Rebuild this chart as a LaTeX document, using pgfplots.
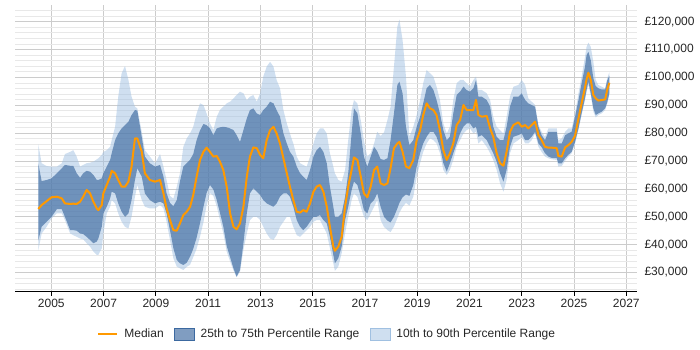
\documentclass[border=0pt]{standalone}
\usepackage{fontspec}
\setmainfont{Liberation Sans}
\usepackage{pgfplots}
\usepackage{pgfplotstable}
\pgfplotsset{compat=1.18}
\usepgfplotslibrary{fillbetween}
\definecolor{medc}{RGB}{255,153,0}
\definecolor{bandc}{RGB}{60,105,160}
\definecolor{lightc}{RGB}{160,192,225}

\pgfplotstableread{
yr lt dt m db lb
2004.50 76100 69200 52800 41400 37800
2004.63 69200 62800 54200 46400 44000
2004.82 68200 63200 55600 48200 46400
2005.01 68000 63800 57000 50000 49400
2005.21 68000 65600 57200 52700 51200
2005.40 69200 67400 56600 52700 51200
2005.52 72500 68600 54800 50000 48800
2005.72 73300 68300 54600 45200 44000
2005.84 73900 68300 54700 45200 43400
2005.97 71600 65600 54600 45000 42800
2006.10 68000 64000 55400 44000 42200
2006.22 68600 65600 57200 43800 41900
2006.35 69200 66500 59600 42800 40500
2006.48 69400 66200 58400 41700 39300
2006.61 69800 65000 55400 40500 37500
2006.74 70600 63200 53000 41100 36300
2006.80 71000 63200 52400 42200 36300
2006.93 72200 63800 54200 46400 38700
2006.99 73300 65600 58400 51200 44000
2007.12 73900 68000 61400 53600 51200
2007.25 75100 70400 64400 56600 53600
2007.31 77500 72800 66500 59000 56000
2007.44 82300 77500 65600 58400 54800
2007.56 93100 79900 63200 54800 51200
2007.69 101500 81700 60800 51800 48200
2007.82 104100 82900 60800 50000 46400
2007.95 99100 84100 62600 51200 45800
2008.07 93100 86500 68000 56000 50000
2008.20 89500 88300 78100 63200 57200
2008.29 88900 88100 78100 67400 61400
2008.46 80500 78700 73300 64400 56000
2008.58 73900 71600 65600 58400 53600
2008.77 71600 69200 63200 56000 53000
2008.97 69200 68000 62600 54800 53000
2009.16 72500 68600 63200 55400 54200
2009.29 68000 64400 58400 54800 53000
2009.41 63200 58400 53000 51200 48200
2009.54 57500 55000 48800 45200 41700
2009.67 56500 53800 45200 38700 35100
2009.80 60800 56000 45000 34500 32100
2009.92 65600 62600 47600 33300 31500
2010.05 75100 68000 50600 32700 30900
2010.18 78100 69200 51800 33500 32000
2010.31 80000 70500 53600 35700 32800
2010.43 82300 72500 57800 38500 35500
2010.56 87100 77500 64400 42500 38500
2010.69 90700 81000 70400 47700 42900
2010.82 90100 83300 73300 53500 48000
2010.94 87100 82900 74800 58500 54000
2011.07 83500 81700 73300 61400 58500
2011.20 81100 79300 71600 59800 57500
2011.33 85900 81700 71800 56000 53700
2011.45 88300 82100 69800 51500 49000
2011.58 89500 82300 66800 46500 44100
2011.71 90700 82100 60800 39500 37500
2011.84 91300 81700 51200 35500 34000
2011.97 92500 81100 46400 31500 30700
2012.09 93700 79300 45500 28500 28300
2012.22 94900 76900 47600 30900 30300
2012.35 94300 81100 53600 40500 38100
2012.48 91900 85300 64400 51200 44000
2012.60 93100 88300 71600 58400 48800
2012.73 93700 88900 74900 60200 50000
2012.86 91300 87100 74600 59000 50000
2012.99 94300 86500 72200 57800 48800
2013.11 100300 88300 71000 56000 46400
2013.24 103900 89500 77500 54800 44000
2013.37 105600 91300 81100 54200 42200
2013.50 103900 90700 82300 53600 41700
2013.62 99100 88300 79900 54800 43400
2013.75 96100 85900 76300 57200 46400
2013.88 88300 79900 71000 58400 48200
2014.01 83500 76300 65600 58400 50000
2014.13 79900 73300 60800 57200 50000
2014.26 76300 71600 56000 53600 46400
2014.39 71600 68000 51800 48800 43400
2014.52 69200 65600 51500 46400 42800
2014.64 68600 64400 52400 45200 44000
2014.77 68000 63200 51800 46400 45200
2014.90 71600 66800 54800 48200 46400
2015.03 76300 71600 59000 50000 48200
2015.15 79900 73900 60800 50000 48800
2015.28 81700 75100 61400 50600 48800
2015.41 81700 73300 59000 48800 46400
2015.54 79900 69200 53600 47600 44000
2015.66 72800 60800 46400 42800 38700
2015.79 68000 53600 39300 36300 33300
2015.85 65600 50000 37800 33300 30600
2015.98 63200 50000 39300 35100 32100
2016.11 62600 51200 42800 39300 36900
2016.24 66800 57200 53600 48800 44000
2016.36 77500 65600 60800 53600 50000
2016.49 88300 79900 66800 59600 56000
2016.58 91900 88900 71300 62600 58400
2016.71 90700 87100 70400 61400 57200
2016.84 84700 79900 64400 57200 53600
2016.96 77500 71600 58400 52400 50000
2017.09 71600 68000 57000 51200 48800
2017.22 72800 71600 60800 54800 51200
2017.35 76300 75100 66800 56000 53600
2017.47 80500 73500 68000 58400 56000
2017.60 79000 70700 62000 53600 48800
2017.73 80300 70400 61400 50000 46400
2017.86 84700 71000 62000 48600 45200
2017.98 89500 77500 67400 48000 44500
2018.11 103900 87100 74600 50000 46500
2018.24 118200 97300 76300 53000 49500
2018.32 120800 98500 76900 55000 51500
2018.44 113400 94300 73300 57000 53500
2018.57 100300 82300 68000 58000 55000
2018.70 78700 75700 67400 57500 54000
2018.85 82300 77500 70400 61400 57200
2018.98 86500 82300 77500 68000 64400
2019.11 91900 85900 81000 72800 69200
2019.23 97900 90700 86500 76300 73300
2019.36 102700 96100 90700 78700 76300
2019.49 101500 97300 88900 80500 78100
2019.62 100300 95500 88300 80500 77500
2019.74 96700 91900 86500 78700 76300
2019.87 91900 87100 81100 75100 72800
2020.00 83500 81100 73900 69200 66800
2020.13 79900 77500 70400 66200 65000
2020.25 82300 78700 72800 69200 66800
2020.38 91900 87100 76300 72800 70400
2020.51 97900 93700 82900 76300 75100
2020.64 99100 94900 84700 79900 77500
2020.77 99100 96700 90100 82300 79900
2020.89 97900 95500 88300 83500 81100
2021.02 96700 94900 88300 83500 81700
2021.15 99100 96100 88300 81700 79900
2021.25 100300 99100 91900 82300 80500
2021.34 95500 93100 86500 78700 76300
2021.47 95500 93100 85900 79300 77500
2021.66 94300 91900 86200 77500 75100
2021.79 91900 89500 81700 75100 72800
2021.91 85900 82300 78700 72800 70400
2022.04 82300 78700 72800 69800 66800
2022.17 81100 77500 69200 65600 62000
2022.30 79900 77500 68300 62600 59000
2022.42 85900 82300 73300 66800 63200
2022.55 93100 89500 80500 75100 72800
2022.68 96700 93100 82900 78700 76300
2022.87 97300 93100 83900 79300 77500
2023.00 99100 94300 82300 79900 78700
2023.13 97300 91900 82900 77500 76300
2023.25 92500 90700 81700 77500 76300
2023.38 91300 90100 82900 78700 77500
2023.51 90100 89500 84100 80500 79900
2023.64 82900 82300 79300 76300 75100
2023.76 80500 79300 77500 75000 73300
2023.89 78700 77500 75100 72800 71600
2024.02 81700 80500 74800 71600 71000
2024.15 81700 80500 74800 71100 70600
2024.34 81700 80500 74600 71000 70400
2024.40 77500 76300 71800 69200 68000
2024.53 78100 76300 71600 69200 68200
2024.66 80500 79300 74900 71000 70100
2024.78 81700 79900 75700 72200 71600
2024.91 81700 80500 76900 73300 72800
2025.04 87100 85900 79100 76900 76300
2025.17 94300 91900 85300 81700 81100
2025.29 100300 97900 90700 87100 86500
2025.42 107400 103900 96400 92500 91900
2025.48 111000 108000 99300 95500 94900
2025.55 112500 109200 101700 98500 97300
2025.64 111000 106200 99100 94300 93700
2025.74 105600 99700 93700 88900 87700
2025.83 99100 96900 92500 86500 85700
2025.93 97300 96100 91700 87100 86500
2026.06 96700 95700 91900 87700 87100
2026.19 96100 95700 92100 88900 88300
2026.27 99700 98900 95500 91100 90500
2026.35 101800 100600 98100 94300 93700
}\salary

\begin{document}
\begin{tikzpicture}
\begin{axis}[
  at={(0pt,0pt)}, anchor=south west,
  width=622pt, height=287pt, scale only axis,
  xmin=2003.61, xmax=2027.41,
  ymin=23000, ymax=126000,
  axis line style={draw=none},
  tick align=outside,
  xtick={2005,2007,...,2027},
  xtick pos=bottom,
  ytick pos=right,
  ytick={30000,40000,...,120000},
  minor ytick={24000,26000,...,124000},
  xmajorgrids, ymajorgrids, yminorgrids,
  major grid style={draw=black!20, line width=0.8pt},
  minor grid style={draw=black!9, line width=0.8pt},
  major tick length=4pt,
  xtick style={draw=black, line width=0.8pt},
  ytick style={draw=none},
  minor tick style={draw=none},
  scaled y ticks=false,
  /pgf/number format/assume math mode=true,
  tick label style={font=\fontsize{12}{14}\selectfont, text=black!85},
  xticklabel style={/pgf/number format/1000 sep={}},
  yticklabel={£\pgfmathprintnumber[fixed,precision=0,1000 sep={,}]{\tick}},
  legend columns=3,
  legend style={at={(0.5,-0.1463)}, anchor=center, draw=none, fill=none,
    font=\fontsize{12}{14}\selectfont, text=black!85,
    column sep=0pt, nodes={inner sep=0pt},
    /tikz/every odd column/.append style={column sep=6pt},
    /tikz/every even column/.append style={column sep=10.5pt}},
]
\addplot[name path=lt, draw=none, forget plot] table[x=yr, y=lt]{\salary};
\addplot[name path=lb, draw=none, forget plot] table[x=yr, y=lb]{\salary};
\addplot[name path=dt, draw=none, forget plot] table[x=yr, y=dt]{\salary};
\addplot[name path=db, draw=none, forget plot] table[x=yr, y=db]{\salary};
\addplot[fill=lightc, fill opacity=0.5, draw=none, forget plot] fill between[of=lt and lb];
\addplot[fill=bandc, fill opacity=0.65, draw=none, forget plot] fill between[of=dt and db];
\addplot[medc, line width=2pt, line join=round, forget plot] table[x=yr, y=m]{\salary};
\draw[black, line width=1pt] (rel axis cs:0,0) -- (rel axis cs:1,0);
\addlegendimage{legend image code/.code={\draw[medc, line width=2.5pt] (0pt,0pt) -- (19pt,0pt);}}
\addlegendentry{Median}
\addlegendimage{legend image code/.code={\fill[bandc, fill opacity=0.65] (0pt,-6pt) rectangle (20pt,6pt);}}
\addlegendentry{25th to 75th Percentile Range}
\addlegendimage{legend image code/.code={\fill[lightc, fill opacity=0.5] (0pt,-6pt) rectangle (20pt,6pt);}}
\addlegendentry{10th to 90th Percentile Range}
\end{axis}
\pgfresetboundingbox
\path (-15pt,-58pt) rectangle (685pt,292pt);
\end{tikzpicture}
\end{document}
